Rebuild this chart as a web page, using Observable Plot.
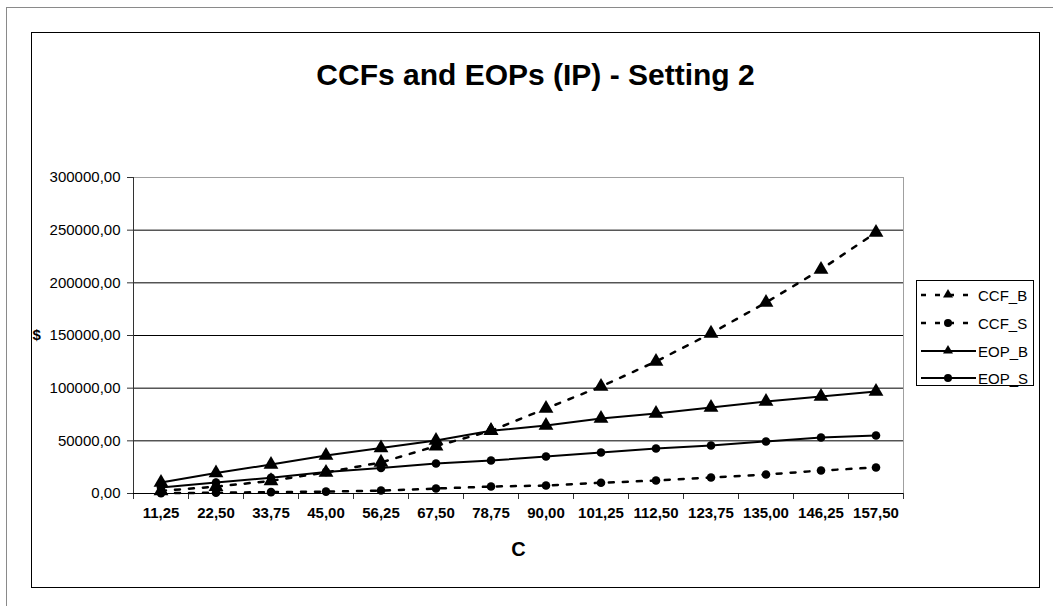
<!DOCTYPE html>
<html>
<head>
<meta charset="utf-8">
<script src="https://cdn.jsdelivr.net/npm/d3@7"></script>
<script src="https://cdn.jsdelivr.net/npm/@observablehq/plot@0.6"></script>
<style>
  html, body { margin: 0; padding: 0; background: #fff; }
  body { width: 1053px; height: 606px; position: relative; overflow: hidden; font-family: "Liberation Sans", Arial, sans-serif; }
  #outer { position: absolute; left: 6px; top: 7px; width: 1200px; height: 700px; border-left: 1px solid #8a8a8a; border-top: 1px solid #8a8a8a; }
  #inner { position: absolute; left: 31px; top: 32px; width: 1009px; height: 556px; border: 1px solid #000; box-sizing: border-box; }
  #title { position: absolute; left: 31px; width: 1009px; top: 57px; text-align: center; font-weight: bold; font-size: 30px; line-height: 36px; color: #000; }
  #chart { position: absolute; left: 0; top: 110px; }
  #legend { position: absolute; left: 916px; top: 280px; width: 118px; height: 106px; border: 1px solid #000; box-sizing: border-box; background: #fff; }
  .row { position: absolute; left: 3px; height: 20px; display: flex; align-items: center; font-size: 15px; color: #000; }
  .row svg { margin-right: 2px; }
</style>
</head>
<body>
<div id="outer"></div>
<div id="inner"></div>
<div id="title">CCFs and EOPs (IP) - Setting 2</div>
<div id="chart"></div>
<div id="legend"></div>
<script>
// ---- data ----
const categories = [11.25, 22.5, 33.75, 45, 56.25, 67.5, 78.75, 90, 101.25, 112.5, 123.75, 135, 146.25, 157.5];
const CCF_B = [2500, 6500, 12000, 20000, 29500, 45000, 59500, 80700, 101600, 125300, 152000, 181300, 212700, 247800];
const CCF_S = [300, 700, 1300, 1800, 2800, 4700, 6600, 7600, 10200, 12300, 15200, 18000, 21800, 24700];
const EOP_B = [10400, 19500, 27500, 36000, 43200, 50300, 59500, 64600, 71200, 76000, 81600, 87300, 92100, 96800];
const EOP_S = [5700, 10400, 15000, 20500, 24200, 28500, 31300, 35100, 38900, 42700, 45600, 49400, 53200, 55100];
const yTicks = [0, 50000, 100000, 150000, 200000, 250000, 300000];
const seriesNames = ["CCF_B", "CCF_S", "EOP_B", "EOP_S"];

const seriesValues = {CCF_B, CCF_S, EOP_B, EOP_S};
const seriesStyle = {
  CCF_B: {dash: "5,9", width: 2.5, symbol: "triangle", r: 5.5},
  CCF_S: {dash: "5,9", width: 2.5, symbol: "circle", r: 4.3},
  EOP_B: {dash: null, width: 2, symbol: "triangle", r: 5.5},
  EOP_S: {dash: null, width: 2, symbol: "circle", r: 4.3}
};

const step = categories[1] - categories[0];
const lo = categories[0] - step / 2;
const hi = categories[categories.length - 1] + step / 2;
const bounds = categories.map(c => c - step / 2).concat([hi]);
const fmt = d => d3.format(".2f")(d).replace(".", ",");

const marks = [
  Plot.ruleY(yTicks.filter(v => v > 0 && v < 300000), {stroke: "#000", strokeWidth: 1}),
  Plot.ruleY([300000], {stroke: "#a0a0a0"}),
  Plot.ruleX([hi], {stroke: "#a0a0a0"}),
  Plot.axisY({ticks: yTicks, tickFormat: fmt, tickSize: 6, tickPadding: 7, fontSize: 15, label: null, stroke: "#333"}),
  Plot.ruleX([lo], {stroke: "#333"}),
  Plot.axisX({ticks: bounds, tickFormat: () => "", tickSize: 6, label: null, stroke: "#333"}),
  Plot.axisX({ticks: categories, tickFormat: fmt, tickSize: 0, tickPadding: 14, fontSize: 15, fontWeight: "bold", label: null}),
  Plot.ruleY([0], {stroke: "#000"}),
  Plot.text(["$"], {frameAnchor: "left", dx: -101, textAnchor: "start", fontWeight: "bold", fontSize: 15}),
  Plot.text(["C"], {frameAnchor: "bottom", dy: 62, fontWeight: "bold", fontSize: 20})
];

for (const name of seriesNames) {
  const data = categories.map((c, i) => ({c, v: seriesValues[name][i]}));
  const st = seriesStyle[name];
  marks.push(Plot.line(data, {x: "c", y: "v", stroke: "#000", strokeWidth: st.width, strokeDasharray: st.dash}));
  marks.push(Plot.dot(data, {x: "c", y: "v", symbol: st.symbol, r: st.r, fill: "#000", stroke: "none"}));
}

const chart = Plot.plot({
  width: 1053,
  height: 480,
  marginLeft: 133,
  marginRight: 150,
  marginTop: 67,
  marginBottom: 97,
  x: {type: "linear", domain: [lo, hi]},
  y: {domain: [0, 300000]},
  style: {fontFamily: "'Liberation Sans', Arial, sans-serif", fontSize: "15px", color: "#000", background: "transparent", overflow: "visible"},
  marks
});
document.getElementById("chart").appendChild(chart);

// legend
const legend = document.getElementById("legend");
const rowTops = [4, 32, 60, 87];
seriesNames.forEach((name, i) => {
  const st = seriesStyle[name];
  const row = document.createElement("div");
  row.className = "row";
  row.style.top = rowTops[i] + "px";
  const dashAttr = st.dash ? `stroke-dasharray="${st.dash}"` : "";
  const marker = st.symbol === "triangle"
    ? `<path d="M28,4 L33,12.5 L23,12.5 Z" fill="#000"/>`
    : `<circle cx="28" cy="10" r="4" fill="#000"/>`;
  row.innerHTML = `<svg width="56" height="20"><line x1="1" y1="10" x2="56" y2="10" stroke="#000" stroke-width="${st.width}" ${dashAttr}/>${marker}</svg><span>${name}</span>`;
  legend.appendChild(row);
});
</script>
</body>
</html>
